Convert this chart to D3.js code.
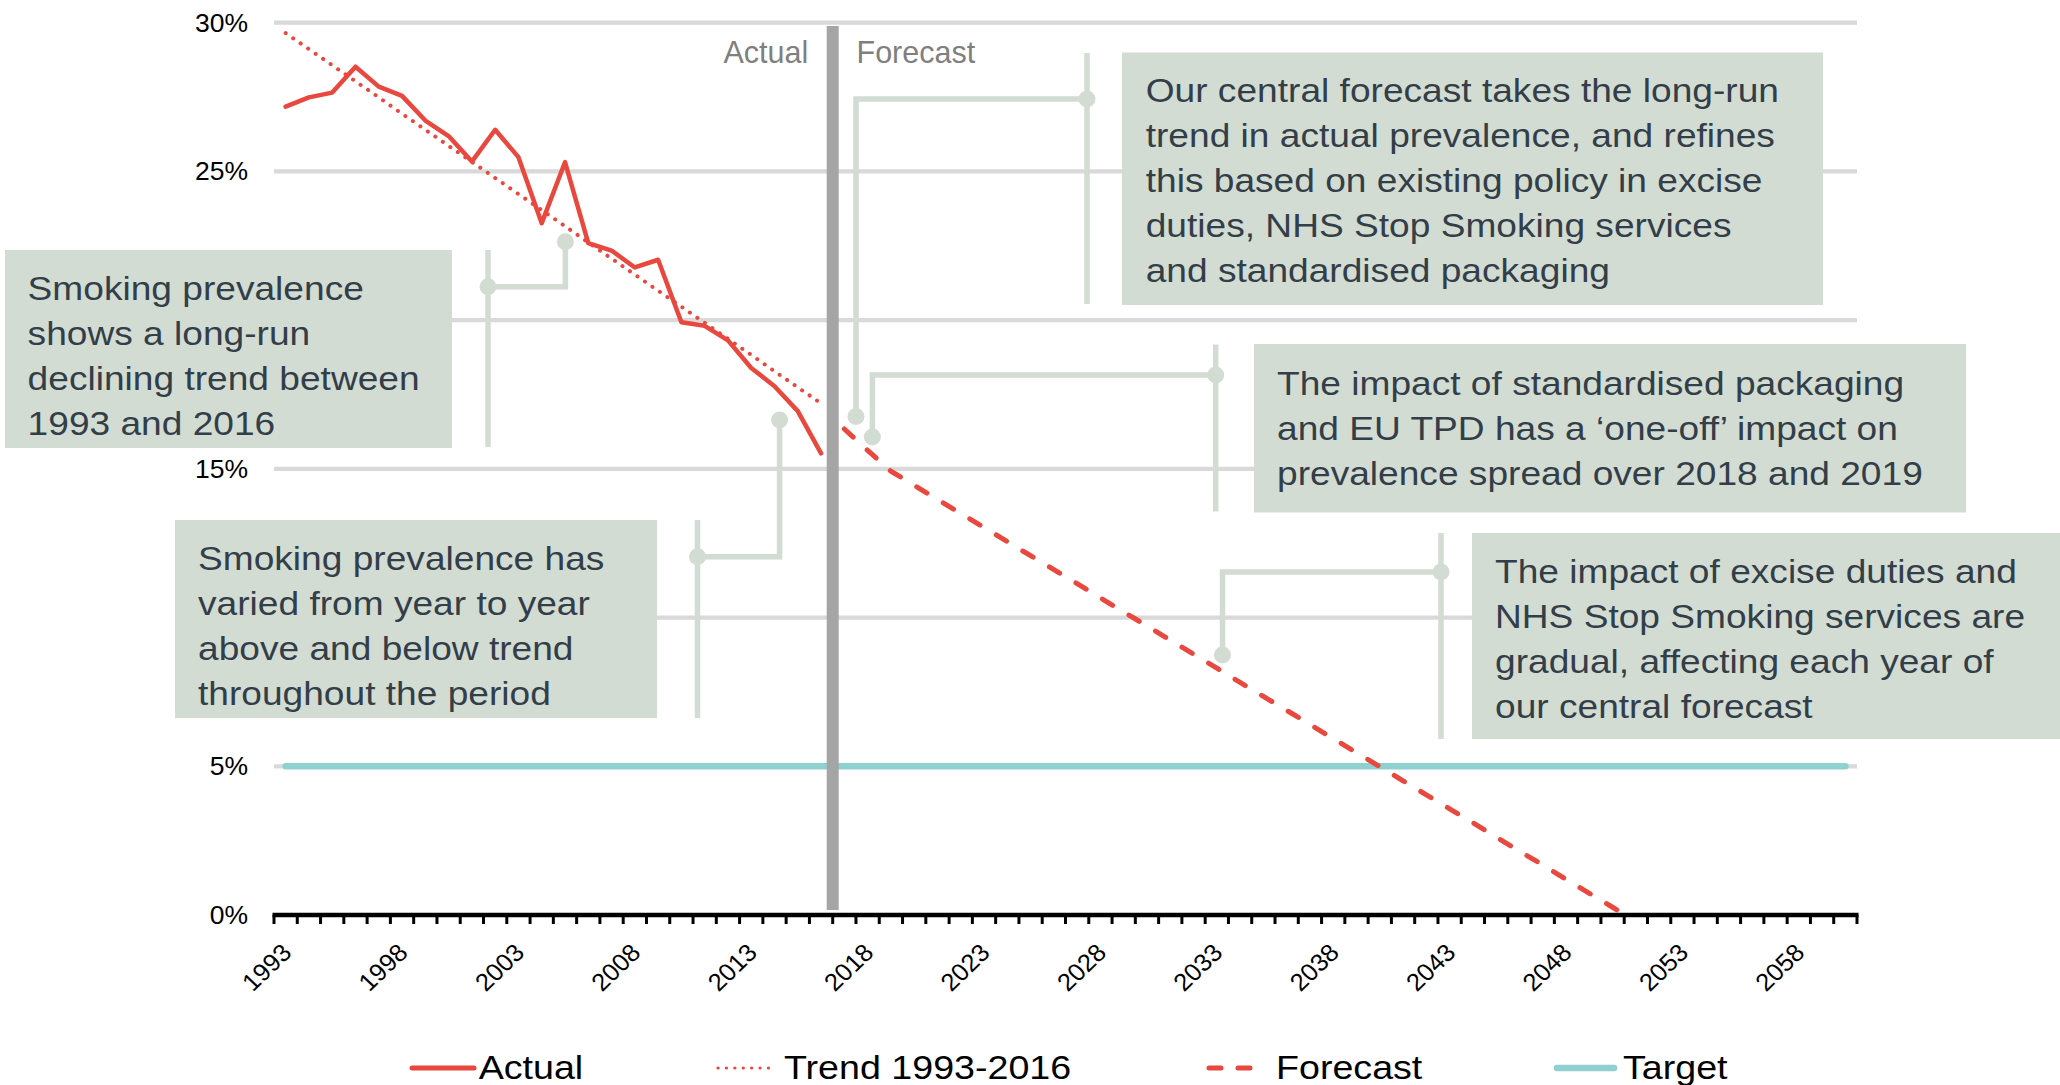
<!DOCTYPE html>
<html>
<head>
<meta charset="utf-8">
<script src="https://cdn.jsdelivr.net/npm/d3@7"></script>
<style>
  html, body { margin: 0; padding: 0; background: #ffffff; }
  svg { display: block; }
  text { font-family: "Liberation Sans", Arial, sans-serif; }
</style>
</head>
<body>
<svg id="chart" width="2060" height="1085"></svg>
<script>
// ---------------- DATA ----------------
const categories = [1993,1994,1995,1996,1997,1998,1999,2000,2001,2002,2003,2004,2005,2006,2007,2008,2009,2010,
  2011,2012,2013,2014,2015,2016,2017,2018,2019,2020,2021,2022,2023,2024,2025,2026,2027,2028,2029,2030,
  2031,2032,2033,2034,2035,2036,2037,2038,2039,2040,2041,2042,2043,2044,2045,2046,2047,2048,2049,2050,
  2051,2052,2053,2054,2055,2056,2057,2058,2059,2060];

const actualYears = [1993,1994,1995,1996,1997,1998,1999,2000,2001,2002,2003,2004,2005,2006,2007,2008,2009,2010,2011,2012,2013,2014,2015,2016];
const actualValues = [27.18,27.49,27.65,28.52,27.85,27.54,26.71,26.19,25.33,26.40,25.48,23.26,25.31,22.59,22.34,21.77,22.03,19.93,19.81,19.32,18.39,17.78,16.94,15.52];

const trendYears = actualYears;
const trendValues = [29.65,29.11,28.57,28.03,27.49,26.94,26.40,25.86,25.32,24.78,24.24,23.70,23.16,22.61,22.07,21.53,20.99,20.45,19.91,19.37,18.83,18.28,17.74,17.20];

const forecastYears = [2017,2018,2019,2020,2021,2022,2023,2024,2025,2026,2027,2028,2029,2030,2031,2032,2033,2034,
  2035,2036,2037,2038,2039,2040,2041,2042,2043,2044,2045,2046,2047,2048,2049,2050,2051];
const forecastValues = [16.34,15.62,14.92,14.45,13.97,13.50,13.03,12.55,12.08,11.61,11.14,10.66,10.19,9.72,9.24,8.77,8.30,7.82,
  7.35,6.88,6.41,5.93,5.46,4.99,4.51,4.04,3.57,3.10,2.62,2.15,1.68,1.20,0.73,0.26,-0.21];

const targetYears = [1993, 2060];
const targetValues = [5, 5];

const gridValues = [5,10,15,20,25,30];
// 10% and 20% labels sit under the annotation boxes in the reference, so they are not shown
const yTickLabels = [0,5,15,25,30];
const xTickLabels = [1993,1998,2003,2008,2013,2018,2023,2028,2033,2038,2043,2048,2053,2058];

const seriesNames = ["Actual", "Trend 1993-2016", "Forecast", "Target"];
const periodLabels = ["Actual", "Forecast"];
const forecastStartYear = 2017;

const annotationTexts = [
  ["Smoking prevalence", "shows a long-run", "declining trend between", "1993 and 2016"],
  ["Smoking prevalence has", "varied from year to year", "above and below trend", "throughout the period"],
  ["Our central forecast takes the long-run", "trend in actual prevalence, and refines", "this based on existing policy in excise", "duties, NHS Stop Smoking services", "and standardised packaging"],
  ["The impact of standardised packaging", "and EU TPD has a \u2018one-off\u2019 impact on", "prevalence spread over 2018 and 2019"],
  ["The impact of excise duties and", "NHS Stop Smoking services are", "gradual, affecting each year of", "our central forecast"]
];

// ---------------- LAYOUT / STYLE ----------------
const RED = "#e8483e", TEAL = "#8fd0d0", GRID = "#d9d9d9", DIVIDER = "#a5a5a5",
      BOX = "#d2dcd3", DARK = "#333e48", GREY = "#7f7f7f";

const plot = { left: 274, right: 1857, top: 22.7, bottom: 915 };

// annotation layout (pixel positions): box, bar (x,y1,y2), bar dot y, elbow x, target dot y
const annLayout = [
  { box:[5,250,452,448],    tx:27.6,  ty0:300, bar:[488,250,447],     by:286.7, ex:565.4, ey:241.7 },
  { box:[175,520,657,718],  tx:198,   ty0:570, bar:[697.5,520,718],   by:556.7, ex:779.6, ey:420 },
  { box:[1122,52.5,1823,305], tx:1145.7, ty0:102, bar:[1087,53,304],  by:99,    ex:856,   ey:416.5 },
  { box:[1254,344,1966,512.5], tx:1277, ty0:395, bar:[1215.7,344.6,511.5], by:375, ex:872.4, ey:437 },
  { box:[1472,533,2060,739], tx:1495,  ty0:583, bar:[1441,533,739],    by:572,   ex:1222.5, ey:655 }
];

// ---------------- SCALES ----------------
const svg = d3.select("#chart");
const x = d3.scaleBand().domain(categories).range([plot.left, plot.right]).padding(0);
const cx = yr => x(yr) + x.bandwidth() / 2;
const y = d3.scaleLinear().domain([0, 30]).range([plot.bottom, plot.top]);

svg.append("defs").append("clipPath").attr("id", "plotclip")
  .append("rect").attr("x", plot.left).attr("y", 0)
  .attr("width", plot.right - plot.left).attr("height", plot.bottom);

// ---------------- GRIDLINES ----------------
svg.append("g").selectAll("line")
  .data(gridValues)
  .join("line")
  .attr("x1", plot.left).attr("x2", plot.right)
  .attr("y1", d => y(d)).attr("y2", d => y(d))
  .attr("stroke", GRID).attr("stroke-width", 4.3);

// ---------------- Y AXIS LABELS ----------------
const yAxis = svg.append("g").attr("transform", `translate(${plot.left},0)`)
  .call(d3.axisLeft(y).tickValues(yTickLabels).tickFormat(d => d + "%").tickSize(0).tickPadding(26));
yAxis.select(".domain").remove();
yAxis.selectAll("text").attr("font-size", 26.5).attr("fill", "#000")
  .attr("font-family", "Liberation Sans, Arial, sans-serif");

// ---------------- X AXIS ----------------
const xAxis = svg.append("g").attr("transform", `translate(0,${plot.bottom})`)
  .call(d3.axisBottom(x).tickValues(xTickLabels).tickSize(0).tickPadding(0));
xAxis.select(".domain").remove();
xAxis.selectAll("text")
  .attr("font-size", 24.5).attr("fill", "#000")
  .attr("font-family", "Liberation Sans, Arial, sans-serif")
  .attr("text-anchor", "end")
  .attr("x", 0).attr("y", 0).attr("dy", "0.35em")
  .attr("transform", "translate(1,33) scale(1.04,1) rotate(-45)");

// boundary tick marks
const boundaries = categories.map(c => x(c)).concat([plot.right]);
svg.append("g").selectAll("line").data(boundaries).join("line")
  .attr("x1", d => d).attr("x2", d => d)
  .attr("y1", plot.bottom).attr("y2", plot.bottom + 9)
  .attr("stroke", "#000").attr("stroke-width", 3);
svg.append("line")
  .attr("x1", plot.left - 1.5).attr("x2", plot.right + 1.5)
  .attr("y1", plot.bottom).attr("y2", plot.bottom)
  .attr("stroke", "#000").attr("stroke-width", 4.5);

// ---------------- SERIES ----------------
const line = d3.line().x(d => cx(d[0])).y(d => y(d[1]));

svg.append("path")
  .datum(targetYears.map((yr, i) => [yr, targetValues[i]]))
  .attr("d", line).attr("fill", "none")
  .attr("stroke", TEAL).attr("stroke-width", 6.5).attr("stroke-linecap", "round");

svg.append("path")
  .datum(trendYears.map((yr, i) => [yr, trendValues[i]]))
  .attr("d", line).attr("fill", "none")
  .attr("stroke", RED).attr("stroke-width", 4)
  .attr("stroke-linecap", "round").attr("stroke-dasharray", "0.1 9");

svg.append("path")
  .datum(actualYears.map((yr, i) => [yr, actualValues[i]]))
  .attr("d", line).attr("fill", "none")
  .attr("stroke", RED).attr("stroke-width", 4.5)
  .attr("stroke-linejoin", "round").attr("stroke-linecap", "round");

svg.append("path")
  .datum(forecastYears.map((yr, i) => [yr, forecastValues[i]]))
  .attr("d", line).attr("fill", "none").attr("clip-path", "url(#plotclip)")
  .attr("stroke", RED).attr("stroke-width", 5)
  .attr("stroke-linecap", "round").attr("stroke-dasharray", "12 19");

// ---------------- ACTUAL / FORECAST DIVIDER ----------------
const divX = x(forecastStartYear);
svg.append("line")
  .attr("x1", divX).attr("x2", divX).attr("y1", 26).attr("y2", 910)
  .attr("stroke", DIVIDER).attr("stroke-width", 12);
svg.append("text").attr("x", divX - 24.5).attr("y", 63.3)
  .attr("text-anchor", "end").attr("font-size", 30.5).attr("fill", GREY).text(periodLabels[0]);
svg.append("text").attr("x", divX + 23.8).attr("y", 63.3)
  .attr("text-anchor", "start").attr("font-size", 30.5).attr("fill", GREY).text(periodLabels[1]);

// ---------------- ANNOTATIONS ----------------
const ann = svg.append("g");
annLayout.forEach((a, i) => {
  const g = ann.append("g");
  g.append("line").attr("x1", a.bar[0]).attr("x2", a.bar[0]).attr("y1", a.bar[1]).attr("y2", a.bar[2])
    .attr("stroke", BOX).attr("stroke-width", 5.5);
  g.append("path")
    .attr("d", `M${a.bar[0]},${a.by}H${a.ex}V${a.ey}`)
    .attr("fill", "none").attr("stroke", BOX).attr("stroke-width", 5.5);
  g.append("circle").attr("cx", a.bar[0]).attr("cy", a.by).attr("r", 8.5).attr("fill", BOX);
  g.append("circle").attr("cx", a.ex).attr("cy", a.ey).attr("r", 8.5).attr("fill", BOX);
  g.append("rect").attr("x", a.box[0]).attr("y", a.box[1])
    .attr("width", a.box[2] - a.box[0]).attr("height", a.box[3] - a.box[1])
    .attr("fill", BOX);
  annotationTexts[i].forEach((t, k) => {
    g.append("text")
      .attr("transform", `translate(${a.tx},${a.ty0 + k * 45}) scale(1.125,1)`)
      .attr("font-size", 33).attr("fill", DARK).text(t);
  });
});

// ---------------- LEGEND ----------------
const legendY = 1068, legendTextY = 1078.5;
const legendItems = [
  { name: seriesNames[0], x1: 412, x2: 474, tx: 478.7, w: 5, dash: null, color: RED },
  { name: seriesNames[1], x1: 718, x2: 774, tx: 784, w: 3.2, dash: "0.1 8.3", color: RED },
  { name: seriesNames[2], x1: 1209, x2: 1253, tx: 1276, w: 5, dash: "12 17", color: RED },
  { name: seriesNames[3], x1: 1557, x2: 1614, tx: 1623, w: 6.5, dash: null, color: TEAL }
];
const lg = svg.append("g");
legendItems.forEach(it => {
  const l = lg.append("line").attr("x1", it.x1).attr("x2", it.x2).attr("y1", legendY).attr("y2", legendY)
    .attr("stroke", it.color).attr("stroke-width", it.w).attr("stroke-linecap", "round");
  if (it.dash) l.attr("stroke-dasharray", it.dash);
  lg.append("text").attr("transform", `translate(${it.tx},${legendTextY}) scale(1.14,1)`)
    .attr("font-size", 33).attr("fill", "#000").text(it.name);
});
</script>
</body>
</html>
